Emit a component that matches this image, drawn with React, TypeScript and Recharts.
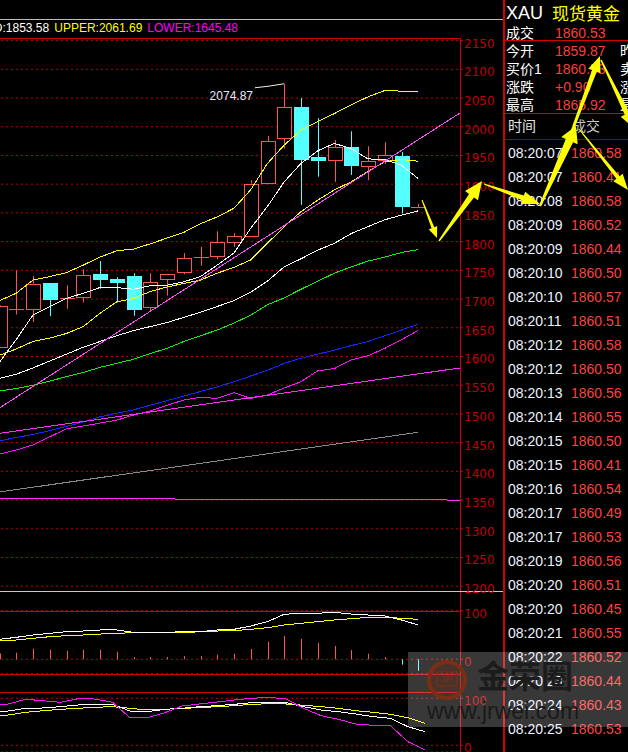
import React from "react";
import { ComposedChart, Bar, Line, XAxis, YAxis, CartesianGrid } from "recharts";

// 26 visible candles + 2 empty slots at the right edge
const slots = [0, 1, 2, 3, 4, 5, 6, 7, 8, 9, 10, 11, 12, 13, 14, 15, 16, 17, 18, 19, 20, 21, 22, 23, 24, 25, 26, 27];

const openP = [1617, 1681, 1683, 1728, 1700, 1702, 1743, 1735, 1740, 1685, 1734, 1747, 1773, 1774, 1800, 1811, 1902, 1980, 2034, 1947, 1941, 1965, 1932, 1942, 1948.5, 1859.87];
const highP = [1689, 1750, 1740, 1728, 1724, 1752, 1766, 1738, 1745, 1745, 1744, 1780, 1791, 1818, 1815, 1907, 1984, 2074.87, 2050, 2015, 1977, 1992, 1966, 1973, 1956, 1865.92];
const lowP = [1616, 1673, 1660, 1670, 1683, 1694, 1718, 1694, 1671, 1679, 1706, 1743, 1758, 1769, 1791, 1810, 1900, 1962, 1864, 1913, 1904, 1916, 1907, 1935, 1849, 1858.5];
const closeP = [1688, 1683, 1727, 1700, 1702, 1741, 1735, 1730, 1683, 1729, 1743, 1771, 1775, 1799, 1810, 1901, 1975, 2034, 1944, 1941, 1964, 1934, 1940, 1950, 1860.7, 1860.53];

const bollUpper = [1697, 1710, 1733, 1739, 1746, 1759, 1773, 1784, 1787, 1796, 1806, 1816, 1831, 1843, 1858, 1890, 1936, 1968, 1994, 2009, 2023, 2038, 2052, 2063, 2062, 2061.69];
const bollMid = [1562, 1569, 1580, 1592, 1604, 1616, 1626, 1636, 1645, 1652, 1659, 1668, 1677, 1687, 1697, 1712, 1731, 1756, 1770, 1785, 1797, 1814, 1826, 1838, 1846, 1853.58];
const bollLower = [1430, 1437, 1446, 1460, 1474, 1479, 1484, 1489, 1498, 1505, 1515, 1524, 1529, 1527, 1537, 1527, 1533, 1545, 1556, 1575, 1579, 1594, 1601, 1614, 1629, 1645.48];
const ma5 = [1590, 1629, 1672, 1687, 1701, 1710, 1720, 1720, 1717, 1723, 1724, 1730, 1739, 1759, 1780, 1823, 1861, 1904, 1936, 1958, 1971, 1962, 1944, 1943, 1933, 1910];
const ma10 = [1602, 1613, 1626, 1632, 1640, 1652, 1675, 1695, 1701, 1713, 1721, 1727, 1733, 1745, 1755, 1768, 1797, 1826, 1852, 1872, 1890, 1904, 1922, 1939, 1943, 1940];
const maGreen = [1540, 1544, 1550, 1557, 1565, 1572, 1581, 1588, 1595, 1605, 1614, 1626, 1636, 1646, 1658, 1672, 1690, 1702, 1717, 1731, 1745, 1756, 1766, 1773, 1781, 1786];
const maBlue = [1453, 1459, 1464, 1471, 1478, 1486, 1495, 1501, 1507, 1515, 1523, 1531, 1539, 1547, 1556, 1566, 1576, 1588, 1597, 1604, 1611, 1619, 1626, 1636, 1646, 1656];
const maGray = [1364, null, null, null, null, null, null, null, null, null, null, null, null, null, null, null, null, null, null, null, null, null, null, null, null, 1468];

// straight lines across the whole panel: value at left edge, value at right edge
const panelEdges = [0, 1];
const trendPink = [1501, 2024];
const trendMagenta = [1464, 1580];
const flatMagenta = [1353, 1350];

const priceTicks = [1200, 1250, 1300, 1350, 1400, 1450, 1500, 1550, 1600, 1650, 1700, 1750, 1800, 1850, 1900, 1950, 2000, 2050, 2100, 2150];

// oscillator panel
const oscFast = [41.1, 45.2, 50, 53.5, 56.8, 58.2, 60.3, 60.3, 55.5, 55.5, 55.5, 56.8, 56.8, 60.3, 61.7, 68.5, 77.4, 92.6, 94.7, 94.7, 96.7, 93.2, 91.2, 89.1, 80.9, 70.6];
const oscSlow = [37.7, 39.7, 43.2, 46.5, 48.6, 50, 52, 53.5, 54.7, 54.7, 54.7, 54.7, 56.8, 58.2, 58.9, 61.7, 65, 70.6, 74, 77.4, 80.9, 83.5, 86.4, 86.4, 84.4, 82.3];
const oscHist = [12, 13.6, 21.8, 19.8, 17.8, 19.8, 19.8, 15.6, 4.7, 4.7, 4.7, 6.8, 6.8, 9.6, 11.6, 21.2, 36.2, 48, 41.8, 33.5, 27.4, 19.1, 11.6, 4.7, -11, -23.5];

// KDJ panel
const kdjK = [69.4, 73, 78.7, 79.4, 82.2, 85.7, 87.2, 87.2, 73, 71.5, 76.6, 78.7, 82.2, 84.3, 87.2, 90.7, 92.1, 90.7, 82.2, 75.1, 71.5, 66.6, 60.9, 57.4, 39.6, 28.9];
const kdjD = [60.9, 64.5, 70.2, 73.6, 76.6, 78.7, 80.9, 82.2, 78.7, 75.1, 76.6, 78.7, 80, 82.2, 84.3, 87.2, 88.5, 87.9, 85.1, 82.2, 78.7, 73.6, 70.2, 66, 58.7, 46.8];
const kdjJ = [83.6, 87.9, 97.9, 94.9, 91.5, 99.1, 98.5, 91.5, 58.7, 58.7, 69.4, 83.6, 87.9, 92.1, 96.4, 100, 102, 98.5, 78.7, 63, 55.3, 45.3, 42.5, 41.7, 7.7, -10];

// quote box
const quoteLabels = ["成交", "今开", "买价1", "涨跌", "最高"];
const quoteValues = ["1860.53", "1859.87", "1860.53", "+0.90", "1865.92"];
const quoteLabels2 = ["", "昨收", "卖价1", "涨幅", "最低"];
const tickTimes = ["08:20:07", "08:20:07", "08:20:08", "08:20:09", "08:20:09", "08:20:10", "08:20:10", "08:20:11", "08:20:12", "08:20:12", "08:20:13", "08:20:14", "08:20:15", "08:20:15", "08:20:16", "08:20:17", "08:20:17", "08:20:19", "08:20:20", "08:20:20", "08:20:21", "08:20:22", "08:20:23", "08:20:24", "08:20:25"];
const tickPrices = ["1860.58", "1860.41", "1860.58", "1860.52", "1860.44", "1860.50", "1860.57", "1860.51", "1860.58", "1860.50", "1860.56", "1860.55", "1860.50", "1860.41", "1860.54", "1860.49", "1860.53", "1860.56", "1860.51", "1860.45", "1860.55", "1860.52", "1860.44", "1860.43", "1860.53"];

const rows = slots.map((s, k) => ({
  slot: s,
  open: openP[k] ?? null,
  high: highP[k] ?? null,
  low: lowP[k] ?? null,
  close: closeP[k] ?? null,
  upper: bollUpper[k] ?? null,
  mid: bollMid[k] ?? null,
  lower: bollLower[k] ?? null,
  ma5: ma5[k] ?? null,
  ma10: ma10[k] ?? null,
  green: maGreen[k] ?? null,
  blue: maBlue[k] ?? null,
  gray: maGray[k] ?? null,
  fast: oscFast[k] ?? null,
  slow: oscSlow[k] ?? null,
  hist: oscHist[k] ?? null,
  k: kdjK[k] ?? null,
  d: kdjD[k] ?? null,
  j: kdjJ[k] ?? null,
}));

const edgeLine = (vals: number[]) => panelEdges.map((t, n) => ({ t, v: vals[n] }));

const RED = "#d40000";
const GRID = "#c00000";
const UP = "#ff5252";
const DOWN = "#54ffff";
const LATIN = "'Liberation Sans', Arial, sans-serif";
const CJK = "'Liberation Sans', 'Noto Sans CJK SC', sans-serif";
const maxHigh = Math.max(...highP);

const AxisLabel = (p: any) => (
  <text x={p.x} y={p.y + 3.5} fill="#c00000" fontSize={12} fontFamily="'DejaVu Sans', sans-serif" textAnchor="start" dominantBaseline="middle">
    {p.payload.value}
  </text>
);

const Candle = (p: any) => {
  const { x, y, width, height, payload } = p;
  if (payload.high == null) return null;
  const { open, close, high, low } = payload;
  const h = Math.abs(height);
  const top = height >= 0 ? y : y + height;
  const span = high - low || 1;
  const py = (v: number) => top + ((high - v) / span) * h;
  const cx = Math.round(x + width / 2);
  const wx = cx + 0.5;
  const up = close >= open;
  const bTop = py(Math.max(open, close));
  const bBot = py(Math.min(open, close));
  const flat = bBot - bTop < 1.5;
  const marker =
    high === maxHigh ? (
      <g>
        <polyline points={`${cx - 29},${py(high) + 4} ${cx - 15},${py(high) + 2.4} ${cx},${py(high)}`} fill="none" stroke="#f0f0f0" strokeWidth={1} />
        <text x={cx - 31} y={py(high) + 13} fill="#e4e8ff" fontSize={12} fontFamily={LATIN} textAnchor="end" dominantBaseline="middle">
          {high.toFixed(2)}
        </text>
      </g>
    ) : null;
  if (flat) {
    const ym = Math.round((bTop + bBot) / 2) + 0.5;
    const col = up ? UP : DOWN;
    return (
      <g>
        <line x1={wx} x2={wx} y1={py(high)} y2={py(low)} stroke={col} />
        <line x1={cx - 7} x2={cx + 8} y1={ym} y2={ym} stroke={col} strokeWidth={up ? 1 : 2} />
        {marker}
      </g>
    );
  }
  if (up) {
    return (
      <g>
        <line x1={wx} x2={wx} y1={py(high)} y2={bTop} stroke={UP} />
        <line x1={wx} x2={wx} y1={bBot} y2={py(low)} stroke={UP} />
        <rect x={cx - 6.5} y={Math.round(bTop) + 0.5} width={14} height={Math.max(1, Math.round(bBot - bTop))} fill="#000" stroke={UP} strokeWidth={1} />
        {marker}
      </g>
    );
  }
  return (
    <g>
      <line x1={wx} x2={wx} y1={py(high)} y2={py(low)} stroke={DOWN} />
      <rect x={cx - 7} y={Math.round(bTop)} width={15} height={Math.max(1, Math.round(bBot - bTop) + 1)} fill={DOWN} />
      {marker}
    </g>
  );
};

const HistBar = (p: any) => {
  const { x, y, width, height, payload } = p;
  if (payload.hist == null) return null;
  const cx = Math.round(x + width / 2);
  const top = height >= 0 ? y : y + height;
  return <rect x={cx} y={top} width={1} height={Math.abs(height)} fill={payload.hist >= 0 ? UP : DOWN} />;
};

const line = (key: string, color: string, extra: any = {}) => (
  <Line key={key} dataKey={key} stroke={color} strokeWidth={1} dot={false} activeDot={false} isAnimationActive={false} type="linear" shapeRendering="crispEdges" {...extra} />
);

const arrows = [
  [422, 200, 437, 238, 1, 3, 11, 9],
  [439, 241, 482, 181, 1.5, 6, 18, 16],
  [484, 184, 540, 204, 1, 5, 18, 13],
  [540, 206, 576, 126, 2, 8, 16, 18],
  [563, 155, 600, 56, 1.5, 5, 16, 13],
  [601, 60, 634, 128, 1.5, 5, 16, 14],
  [579, 129, 628, 190, 1, 4, 16, 12],
];

const arrowPoints = (a: number[]) => {
  const [x1, y1, x2, y2, w0, w1, hl, hw] = a;
  const len = Math.hypot(x2 - x1, y2 - y1);
  const ux = (x2 - x1) / len, uy = (y2 - y1) / len;
  const nx = -uy, ny = ux;
  const bx = x2 - ux * hl, by = y2 - uy * hl;
  const pts = [
    [x1 + (nx * w0) / 2, y1 + (ny * w0) / 2],
    [bx + (nx * w1) / 2, by + (ny * w1) / 2],
    [bx + (nx * hw) / 2, by + (ny * hw) / 2],
    [x2, y2],
    [bx - (nx * hw) / 2, by - (ny * hw) / 2],
    [bx - (nx * w1) / 2, by - (ny * w1) / 2],
    [x1 - (nx * w0) / 2, y1 - (ny * w0) / 2],
  ];
  return pts.map((q) => q.join(",")).join(" ");
};

const hr = (left: number, top: number, width: number, color: string, h = 1) => (
  <div style={{ position: "absolute", left, top, width, height: h, background: color }} />
);

const txt = (s: string, left: number, cy: number, color: string, size = 14, extra: any = {}) => (
  <div style={{ position: "absolute", left, top: cy - 9, height: 18, lineHeight: "18px", fontSize: size, color, whiteSpace: "nowrap", fontFamily: CJK, ...extra }}>{s}</div>
);

const edgeSeries = (vals: number[], color: string) => (
  <Line xAxisId="t" data={edgeLine(vals)} dataKey="v" stroke={color} strokeWidth={1} dot={false} activeDot={false} isAnimationActive={false} shapeRendering="crispEdges" />
);

export default function App() {
  return (
    <div style={{ position: "absolute", left: 0, top: 0, width: 628, height: 752, background: "#000", overflow: "hidden" }}>
      {/* frame */}
      {hr(0, 19, 503, "#bdbdbd")}
      {hr(0, 38, 461, RED)}
      <div style={{ position: "absolute", left: 460, top: 38, width: 1, height: 714, background: RED }} />
      {hr(0, 591, 503, "#c8c8c8")}
      {hr(0, 611, 461, RED)}
      {hr(0, 674, 461, RED)}
      {hr(0, 692, 461, RED)}
      <div style={{ position: "absolute", left: 503, top: 0, width: 2, height: 752, background: RED }} />

      {/* indicator header */}
      <div style={{ position: "absolute", left: -19.5, top: 21, lineHeight: "14px", fontSize: 12, fontFamily: LATIN, whiteSpace: "nowrap" }}>
        <span style={{ color: "#fff" }}>MID:{bollMid[25].toFixed(2)}</span>
        <span style={{ color: "#ffff00", marginLeft: 5 }}>UPPER:{bollUpper[25].toFixed(2)}</span>
        <span style={{ color: "#ff00ff", marginLeft: 5 }}>LOWER:{bollLower[25].toFixed(2)}</span>
      </div>

      {/* price panel */}
      <div style={{ position: "absolute", left: -9, top: 0 }}>
        <ComposedChart width={509} height={600} data={rows} margin={{ top: 40.6, right: 0, bottom: 13.8, left: 0 }}>
          <CartesianGrid vertical={false} stroke={GRID} strokeDasharray="2 3" />
          <XAxis dataKey="slot" hide />
          <XAxis xAxisId="t" type="number" dataKey="t" domain={[0, 1]} hide allowDataOverflow />
          <YAxis orientation="right" width={40} domain={[1200, 2150]} ticks={priceTicks} interval={0} axisLine={false} tickLine={{ stroke: RED }} tickSize={3} tickMargin={1} tick={AxisLabel} allowDataOverflow />
          <Bar dataKey={(d: any) => (d.high == null ? null : [d.low, d.high])} barSize={15} shape={Candle} isAnimationActive={false} />
          {line("gray", "#8a8a8a", { connectNulls: true })}
          {line("blue", "#1428ff")}
          {line("green", "#10f010")}
          {line("lower", "#ff10ff")}
          {line("mid", "#ffffff")}
          {line("ma10", "#ffff00")}
          {line("upper", "#ffff00")}
          {line("ma5", "#ffffff")}
          {edgeSeries(flatMagenta, "#ff2cff")}
          {edgeSeries(trendMagenta, "#ff2cff")}
          {edgeSeries(trendPink, "#ff50ff")}
        </ComposedChart>
      </div>

      {/* oscillator panel */}
      <div style={{ position: "absolute", left: -9, top: 600 }}>
        <ComposedChart width={509} height={80} data={rows} margin={{ top: 10.7, right: 0, bottom: 6.3, left: 0 }}>
          <CartesianGrid vertical={false} stroke={GRID} strokeDasharray="2 3" />
          <XAxis dataKey="slot" hide />
          <YAxis orientation="right" width={40} domain={[-29.6, 100]} ticks={[0, 100]} interval={0} axisLine={false} tickLine={{ stroke: RED }} tickSize={3} tickMargin={1} tick={AxisLabel} allowDataOverflow />
          <Bar dataKey="hist" barSize={1} shape={HistBar} isAnimationActive={false} />
          {line("slow", "#ffff00")}
          {line("fast", "#ffffff")}
        </ComposedChart>
      </div>

      {/* KDJ panel */}
      <div style={{ position: "absolute", left: -9, top: 680 }}>
        <ComposedChart width={509} height={72} data={rows} margin={{ top: 12.3, right: 0, bottom: 0, left: 0 }}>
          <CartesianGrid vertical={false} stroke={GRID} strokeDasharray="2 3" />
          <XAxis dataKey="slot" hide />
          <YAxis orientation="right" width={40} domain={[-14.3, 112.8]} ticks={[0, 100]} interval={0} axisLine={false} tickLine={{ stroke: RED }} tickSize={3} tickMargin={1} tick={AxisLabel} allowDataOverflow />
          {line("d", "#ffff00")}
          {line("k", "#ffffff")}
          {line("j", "#ff10ff")}
        </ComposedChart>
      </div>

      {/* quote panel */}
      {txt("XAU", 506, 13, "#ffffff", 18)}
      {txt("现货黄金", 552, 13, "#ffff00", 17, { fontFamily: "'Noto Sans CJK SC', sans-serif" })}
      {quoteLabels.map((l, n) => (
        <React.Fragment key={l}>
          {txt(l, 506, 33 + n * 18, "#ffffff", 14)}
          {txt(quoteValues[n], 555, 33 + n * 18, "#ff3c3c", 14)}
          {quoteLabels2[n] ? txt(quoteLabels2[n], 620, 33 + n * 18, "#ffffff", 14) : null}
        </React.Fragment>
      ))}
      {hr(505, 40, 123, RED)}
      {hr(505, 113, 123, RED)}
      {txt("时间", 508, 126, "#e6e6e6", 14)}
      {txt("成交", 572, 126, "#c8c8c8", 14)}
      {hr(505, 139, 123, "#8c0000")}
      {tickTimes.map((t, n) => (
        <React.Fragment key={n}>
          {txt(t, 508, 153 + n * 24, "#eef3ff", 14, { fontFamily: LATIN })}
          {txt(tickPrices[n], 571, 153 + n * 24, "#ff4040", 14, { fontFamily: LATIN })}
        </React.Fragment>
      ))}

      {/* watermark */}
      <div style={{ position: "absolute", left: 408, top: 652, width: 230, height: 75, background: "rgba(255,255,255,0.22)" }} />
      <svg width={628} height={752} style={{ position: "absolute", left: 0, top: 0, pointerEvents: "none" }}>
        <circle cx={447} cy={680} r={18} fill="rgba(120,40,10,0.25)" stroke="#7a2f12" strokeWidth={4} />
        <rect x={437} y={672} width={20} height={14} fill="none" stroke="#7a2f12" strokeWidth={1.2} />
        <text x={447} y={680} fontSize={9} fill="#7a2f12" textAnchor="middle" dominantBaseline="middle" fontFamily={LATIN}>JR</text>
        <text x={477} y={679} fontSize={32} fontWeight={700} fill="#1c1c1c" dominantBaseline="middle" fontFamily="'Noto Sans CJK SC', sans-serif">金荣圈</text>
        <text x={427} y={713} fontSize={23} fill="#1a1a1a" dominantBaseline="middle" fontFamily={LATIN}>www.jrwei.com</text>
        {arrows.map((a, n) => (
          <polygon key={n} points={arrowPoints(a)} fill="#ffff00" />
        ))}
      </svg>
    </div>
  );
}
